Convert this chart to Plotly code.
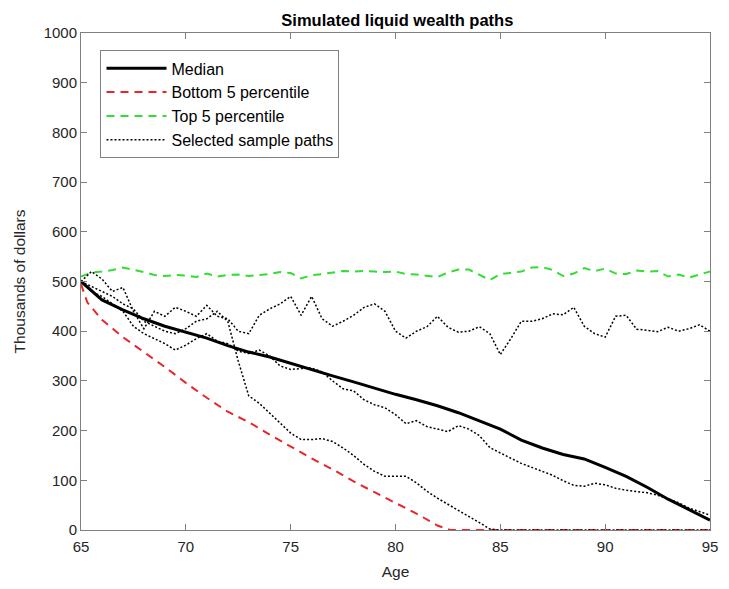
import plotly.graph_objects as go

# ---- data (thousands of dollars) ----
age_median = [65, 66, 67, 68, 69, 70, 71, 72, 73, 74, 75, 76, 77, 78, 79, 80,
              81, 82, 83, 84, 85, 86, 87, 88, 89, 90, 91, 92, 93, 94, 95]
median = [500, 463, 443, 425, 410, 398, 386, 371, 358, 348, 335, 322, 310, 298, 285, 273,
          262, 250, 236, 220, 203, 181, 165, 152, 143, 126, 108, 86, 62, 41, 20]

age_bottom = [65, 65.3, 66, 67, 68, 69, 70, 71, 72, 73, 74, 75, 76, 77, 78, 79, 80,
              81, 82, 82.6, 85, 90, 95]
bottom5 = [495, 458, 423, 388, 358, 328, 296, 266, 238, 217, 192, 168, 144, 122, 98, 76, 55,
           33, 9, 0, 0, 0, 0]

age_half = [65.0, 65.5, 66.0, 66.5, 67.0, 67.5, 68.0, 68.5, 69.0, 69.5, 70.0, 70.5,
            71.0, 71.5, 72.0, 72.5, 73.0, 73.5, 74.0, 74.5, 75.0, 75.5, 76.0, 76.5,
            77.0, 77.5, 78.0, 78.5, 79.0, 79.5, 80.0, 80.5, 81.0, 81.5, 82.0, 82.5,
            83.0, 83.5, 84.0, 84.5, 85.0, 85.5, 86.0, 86.5, 87.0, 87.5, 88.0, 88.5,
            89.0, 89.5, 90.0, 90.5, 91.0, 91.5, 92.0, 92.5, 93.0, 93.5, 94.0, 94.5, 95.0]

top5 = [510, 518, 520, 523, 528, 524, 519, 513, 511, 513, 512, 509,
        516, 510, 513, 514, 511, 513, 515, 519, 517, 506, 513, 515,
        518, 521, 520, 521, 520, 519, 520, 515, 514, 511, 509, 518,
        524, 524, 514, 503, 515, 518, 520, 528, 529, 523, 511, 516,
        527, 521, 526, 516, 515, 522, 520, 521, 510, 514, 508, 514, 520]

path_a = [500, 520, 505, 480, 488, 440, 405, 440, 430, 448, 440, 430,
          452, 430, 425, 400, 395, 432, 445, 455, 470, 432, 470, 425,
          410, 420, 432, 448, 455, 440, 400, 386, 400, 409, 430, 408,
          398, 400, 409, 395, 353, 385, 420, 420, 425, 435, 433, 448,
          410, 395, 388, 430, 432, 404, 402, 399, 408, 400, 405, 413, 400]

path_b = [500, 480, 470, 455, 440, 410, 395, 385, 375, 362, 372, 385,
          395, 380, 375, 360, 355, 362, 350, 330, 323, 325, 326, 318,
          300, 284, 280, 262, 252, 246, 232, 214, 220, 208, 203, 198,
          210, 203, 190, 166, 155, 145, 134, 126, 118, 110, 99, 90,
          88, 94, 91, 84, 80, 78, 75, 70, 63, 55, 44, 37, 30]

path_c = [500, 490, 480, 470, 455, 445, 420, 410, 400, 395, 405, 420,
          425, 440, 420, 340, 270, 255, 235, 213, 195, 182, 182, 184,
          178, 165, 150, 132, 118, 108, 108, 108, 95, 78, 64, 52,
          40, 28, 15, 2, 0, 0, 0, 0, 0, 0, 0, 0,
          0, 0, 0, 0, 0, 0, 0, 0, 0, 0, 0, 0, 0]

x_ticks = [65, 70, 75, 80, 85, 90, 95]
y_ticks = [0, 100, 200, 300, 400, 500, 600, 700, 800, 900, 1000]

FONT = "Liberation Sans, Arial, Helvetica, sans-serif"
AXC = "#808080"
TXT = "#262626"

fig = go.Figure()
fig.add_trace(go.Scatter(x=age_median, y=median, mode="lines", name="Median",
                         line=dict(color="black", width=3)))
fig.add_trace(go.Scatter(x=age_bottom, y=bottom5, mode="lines", name="Bottom 5 percentile",
                         line=dict(color="#e8262a", width=2, dash="8px,6px")))
fig.add_trace(go.Scatter(x=age_half, y=top5, mode="lines", name="Top 5 percentile",
                         line=dict(color="#33dd33", width=2, dash="8px,6px")))
for i, p in enumerate([path_a, path_b, path_c]):
    fig.add_trace(go.Scatter(x=age_half, y=p, mode="lines", name="Selected sample paths",
                             legendgroup="paths", showlegend=(i == 0),
                             line=dict(color="black", width=1.5, dash="2px,2px")))

# page body adds an 8px offset, so the figure is 8px smaller and margins shifted
fig.update_layout(
    width=721, height=581,
    margin=dict(l=70, r=11, t=25, b=51),
    paper_bgcolor="white", plot_bgcolor="white",
    font=dict(family=FONT, size=14, color=TXT),
    title=dict(text="<b>Simulated liquid wealth paths</b>", x=0.540, xanchor="center",
               y=1 - 12 / 581, yanchor="middle", yref="container",
               font=dict(family=FONT, size=16.5, color="black")),
    showlegend=True,
    legend=dict(x=0.031, y=0.965, xanchor="left", yanchor="top",
                bgcolor="white", bordercolor=AXC, borderwidth=1,
                font=dict(family=FONT, size=16, color="black"),
                itemwidth=60, tracegroupgap=0),
)
fig.update_xaxes(range=[65, 95], tickvals=x_ticks, ticks="inside", ticklen=6,
                 tickcolor=AXC, showline=True, linecolor=AXC, linewidth=1, mirror="ticks",
                 showgrid=False, zeroline=False, ticklabelstandoff=3,
                 tickfont=dict(size=15, color=TXT),
                 title=dict(text="Age", font=dict(size=15.5, color=TXT), standoff=12))
fig.update_yaxes(range=[0, 1000], tickvals=y_ticks, ticks="inside", ticklen=6,
                 tickcolor=AXC, showline=True, linecolor=AXC, linewidth=1, mirror="ticks",
                 showgrid=False, zeroline=False,
                 tickfont=dict(size=15, color=TXT),
                 title=dict(text="Thousands of dollars", font=dict(size=15.5, color=TXT), standoff=14))

fig.write_html("out.html")
